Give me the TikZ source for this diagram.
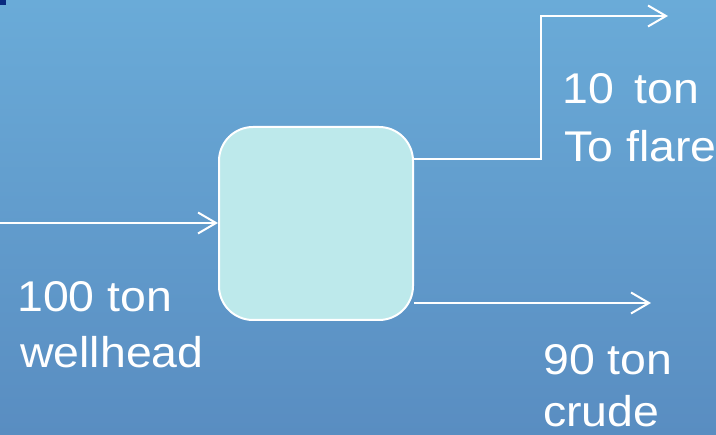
\documentclass[tikz,border=0pt]{standalone}
\usepackage{fontspec}
\setmainfont{Liberation Sans}
\usetikzlibrary{arrows.meta}
\definecolor{bgtop}{HTML}{6AABD8}
\definecolor{bgbot}{HTML}{598DC1}
\definecolor{boxfill}{HTML}{BDE9EB}
\definecolor{markblue}{HTML}{0A2A80}
\tikzset{
  flow/.style={draw=white, line width=2pt,
    -{Straight Barb[length=18pt,width=21pt,line width=2pt]}},
  unit/.style={draw=white, line width=2pt, fill=boxfill, rounded corners=34pt},
  lbl/.style={text=white, font=\fontsize{43}{56}\selectfont, inner sep=0pt,
    anchor=base west, align=left, xscale=1.08, transform shape},
}
\begin{document}
\begin{tikzpicture}[x=1pt, y=-1pt]
  % background
  \shade[top color=bgtop, bottom color=bgbot] (0,0) rectangle (716,435);
  \useasboundingbox (0,0) rectangle (716,435);
  \fill[markblue] (0,0) rectangle (6,5);

  % separator unit
  \node[unit, minimum width=194pt, minimum height=193pt, inner sep=0pt]
    (sep) at (316,223.5) {};

  % stream ends
  \coordinate (feed) at (0,223);
  \coordinate (flarecorner) at (541,16);
  \coordinate (flareend) at (668,16);
  \coordinate (crudeend) at (651,303);

  \draw[flow] (feed) -- (feed -| sep.west);
  \draw[flow] (sep.east |- 0,159) -| (flarecorner) -- (flareend);
  \draw[flow] (sep.east |- 0,303) -- (crudeend);

  % labels
  \node[lbl] (lflare) at (562,104) {10\hspace{7pt} ton};
  \node[lbl] (lflare2) at (564,162) {To flare};
  \node[lbl] (lfeed) at (17,312) {100 ton};
  \node[lbl] (lfeed2) at (20,368) {wellhead};
  \node[lbl] (lcrude) at (543,375) {90 ton};
  \node[lbl] (lcrude2) at (543,427) {crude};
\end{tikzpicture}
\end{document}
